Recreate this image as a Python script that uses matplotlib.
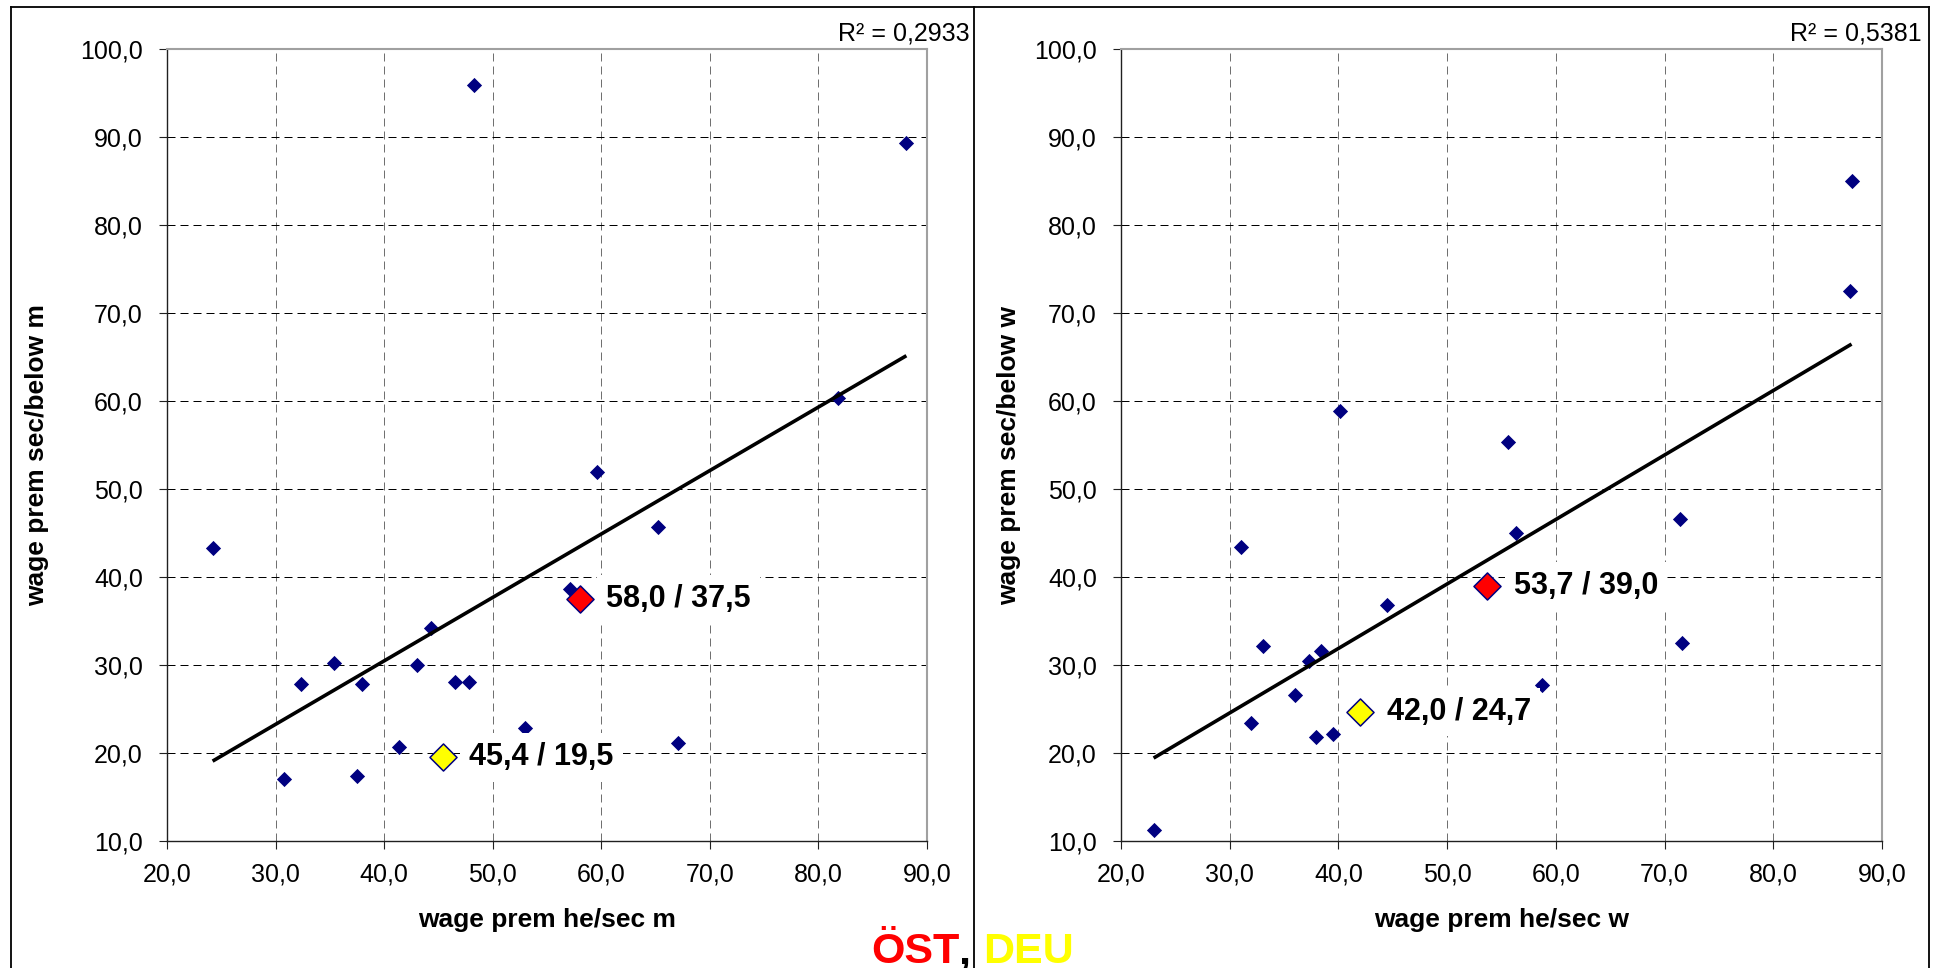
import numpy as np
import matplotlib
matplotlib.use('Agg')
import matplotlib.pyplot as plt
from matplotlib.ticker import FixedLocator, FuncFormatter
from matplotlib.lines import Line2D

plt.rcParams['font.family'] = ['Liberation Sans', 'DejaVu Sans']

# ---------------- data ----------------
# men (left panel)
m_x = [24.2, 59.6, 65.2, 57.1, 44.3, 35.4, 32.3, 38.0, 43.0, 46.5, 47.8,
       53.0, 67.1, 41.4, 30.8, 37.5, 48.3, 88.1, 81.8]
m_y = [43.3, 52.0, 45.7, 38.6, 34.2, 30.2, 27.9, 27.9, 30.0, 28.1, 28.1,
       22.8, 21.1, 20.7, 17.0, 17.4, 95.9, 89.4, 60.4]
m_oest = (58.0, 37.5)
m_deu = (45.4, 19.5)
m_r2 = "0,2933"

# women (right panel)
w_x = [55.6, 71.4, 56.3, 31.0, 44.5, 33.1, 38.4, 37.3, 71.6, 58.7, 36.0,
       32.0, 37.9, 39.5, 23.0, 40.1, 87.2, 87.1]
w_y = [55.4, 46.6, 45.0, 43.4, 36.8, 32.2, 31.6, 30.5, 32.5, 27.7, 26.6,
       23.4, 21.8, 22.2, 11.3, 58.9, 85.0, 72.5]
w_oest = (53.7, 39.0)
w_deu = (42.0, 24.7)
w_r2 = "0,5381"

x_ticks = [20, 30, 40, 50, 60, 70, 80, 90]
y_ticks = [10, 20, 30, 40, 50, 60, 70, 80, 90, 100]

x_labels = ["wage prem he/sec m", "wage prem he/sec w"]
y_labels = ["wage prem sec/below m", "wage prem sec/below w"]

# ---------------- figure ----------------
W, H = 1934, 968
fig = plt.figure(figsize=(W / 100, H / 100), dpi=100)

def px_rect(x0, x1, ytop, ybot):
    return [x0 / W, 1 - ybot / H, (x1 - x0) / W, (ybot - ytop) / H]

ax_l = fig.add_axes(px_rect(167, 927, 49.3, 841))
ax_r = fig.add_axes(px_rect(1121, 1882, 49.3, 841))

fmt = FuncFormatter(lambda v, p: f"{v:.1f}".replace('.', ','))
navy = '#000080'

def lab(pt):
    return f"{pt[0]:.1f} / {pt[1]:.1f}".replace('.', ',')

def draw(ax, xs, ys, oest, deu, xl, yl, ylx):
    ax.set_xlim(20, 90)
    ax.set_ylim(10, 100)
    ax.xaxis.set_major_locator(FixedLocator(x_ticks))
    ax.yaxis.set_major_locator(FixedLocator(y_ticks))
    ax.xaxis.set_major_formatter(fmt)
    ax.yaxis.set_major_formatter(fmt)
    ax.tick_params(axis='both', direction='out', length=5.8, width=0.8,
                   color='#202020', labelsize=18, labelcolor='black')
    ax.tick_params(axis='x', pad=10)
    ax.tick_params(axis='y', pad=11.5)
    for s in ['left', 'bottom']:
        ax.spines[s].set_color('#202020')
        ax.spines[s].set_linewidth(1.0)
    for s in ['top', 'right']:
        ax.spines[s].set_color('#a0a0a0')
        ax.spines[s].set_linewidth(1.5)
    ax.set_axisbelow(True)
    ax.yaxis.grid(True, color='black', linewidth=0.72, linestyle=(0, (8, 5)))
    ax.xaxis.grid(True, color='#707070', linewidth=0.72, linestyle=(0, (8, 5)))

    allx = np.array(list(xs) + [oest[0], deu[0]])
    ally = np.array(list(ys) + [oest[1], deu[1]])
    ax.scatter(xs, ys, marker='D', s=60, color=navy, linewidths=0, zorder=3)

    k, b = np.polyfit(allx, ally, 1)
    lx = np.array([allx.min(), allx.max()])
    ax.plot(lx, k * lx + b, color='black', linewidth=2.6, zorder=6,
            solid_capstyle='butt')

    for pt, col in [(oest, '#ff0000'), (deu, '#ffff00')]:
        ax.scatter([pt[0]], [pt[1]], marker='D', s=190, color=col,
                   edgecolors=navy, linewidths=1.1, zorder=7)
        ax.annotate(lab(pt), xy=pt, xytext=(19, 0), textcoords='offset points',
                    ha='left', va='center', fontsize=22, fontweight='bold',
                    color='black', zorder=5,
                    bbox=dict(boxstyle='square,pad=0.3', fc='white', ec='none'))

    ax.set_xlabel(xl, fontsize=19, fontweight='bold')
    ax.xaxis.set_label_coords(0.5, -0.084)
    ax.set_ylabel(yl, fontsize=19, fontweight='bold', va='center')
    ax.yaxis.set_label_coords(ylx, 0.487)

draw(ax_l, m_x, m_y, m_oest, m_deu, x_labels[0], y_labels[0], -0.171)
draw(ax_r, w_x, w_y, w_oest, w_deu, x_labels[1], y_labels[1], -0.147)

# R^2 labels
fig.text(970 / W, 1 - 40.7 / H, "R\u00b2 = " + m_r2, ha='right', va='baseline',
         fontsize=18)
fig.text(1921.7 / W, 1 - 40.7 / H, "R\u00b2 = " + w_r2, ha='right', va='baseline',
         fontsize=18)

# outer frames
def fline(xs, ys, lw=1.3, color='black'):
    fig.add_artist(Line2D([x / W for x in xs], [1 - y / H for y in ys],
                          color=color, linewidth=lw, transform=fig.transFigure))

fline([11, 1928.7], [7.3, 7.3])
fline([11, 11], [7.3, 968])
fline([1928.7, 1928.7], [7.3, 968])
fline([974.3, 974.3], [7.3, 968])

# bottom caption
yb = 1 - 963 / H
fig.text(871.7 / W, yb, "ÖST", color='#ff0000', fontsize=31, fontweight='bold',
         ha='left', va='baseline')
fig.text(958 / W, yb, ",", color='black', fontsize=31, fontweight='bold',
         ha='left', va='baseline')
fig.text(983 / W, yb, "DEU", color='#ffff00', fontsize=31, fontweight='bold',
         ha='left', va='baseline')

fig.savefig('out.png', dpi=100)
